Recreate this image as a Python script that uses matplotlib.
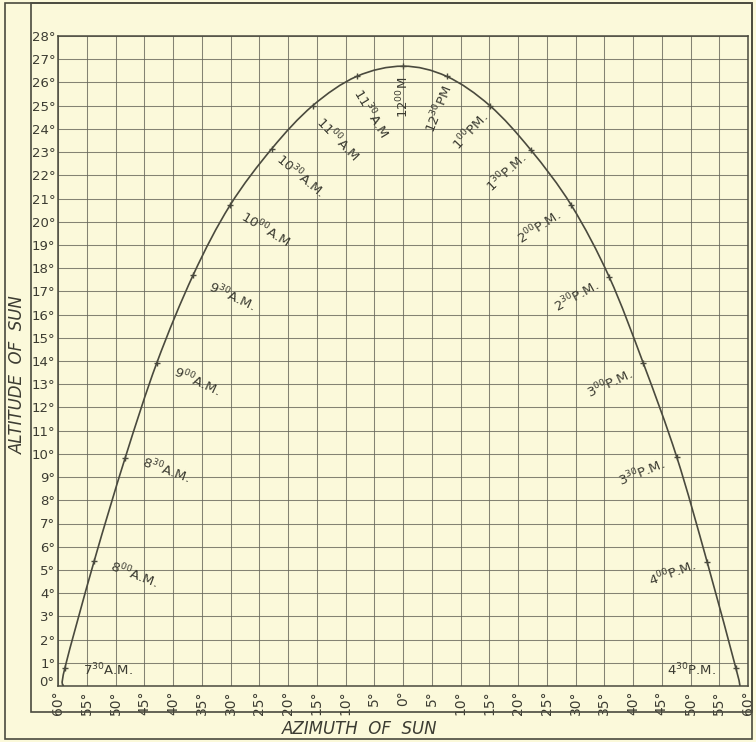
import matplotlib
matplotlib.use("Agg")
import matplotlib.pyplot as plt
from matplotlib.path import Path
from matplotlib.patches import PathPatch, Rectangle
import matplotlib.transforms as mtransforms
import numpy as np

# ---------------- data ----------------
times = ["7$^{30}$A.M.", "8$^{00}$A.M.", "8$^{30}$A.M.", "9$^{00}$A.M.", "9$^{30}$A.M.",
         "10$^{00}$A.M", "10$^{30}$A.M.", "11$^{00}$A.M", "11$^{30}$A.M", "12$^{00}$M",
         "12$^{30}$PM", "1$^{00}$PM.", "1$^{30}$P.M.", "2$^{00}$P.M.", "2$^{30}$P.M.",
         "3$^{00}$P.M.", "3$^{30}$P.M.", "4$^{00}$P.M.", "4$^{30}$P.M."]
azimuth = [-58.8, -53.7, -48.3, -42.8, -36.5, -30.1, -22.8, -15.7, -8.05, 0.0,
           7.6, 15.1, 22.2, 29.3, 35.9, 41.8, 47.6, 52.9, 57.9]
altitude = [0.78, 5.39, 9.84, 13.93, 17.7, 20.7, 23.15, 25.0, 26.26, 26.7,
            26.26, 25.0, 23.1, 20.7, 17.6, 13.9, 9.87, 5.34, 0.76]
# where the path meets the horizon
rise_az, set_az = -59.1, 58.6

x_ticks = list(range(-60, 61, 5))
y_ticks = list(range(0, 29))

# ---------------- layout / style ----------------
BG = "#FBF9DA"
INK = "#4a4a3e"
GRID = "#66665a"
TXT = "#3c3c32"
plt.rcParams["mathtext.fontset"] = "dejavusans"
# label offsets (pixels) from each marker, and text rotation
label_offsets = [(43, -2), (40, -14), (41, -12), (40, -19), (39, -21), (36, -24),
                 (29, -27), (25, -33), (14, -37), (0, -31), (-8, -33), (-19, -25),
                 (-24, -23), (-32, -21), (-33, -19), (-33, -20), (-35, -16),
                 (-35, -11), (-44, -2)]
label_rot = [0, -21, -20, -25, -25, -31, -40, -46, -59, 90, 68, 47, 43, 33, 29,
             25, 22, 20, 0]

W, H = 756, 742
fig = plt.figure(figsize=(W / 100, H / 100), dpi=100, facecolor=BG)
ax = fig.add_axes([58 / W, (H - 686) / H, (748 - 58) / W, (686 - 36) / H])
ax.set_facecolor(BG)
ax.set_xlim(-60, 60)
ax.set_ylim(0, 28)

ax.set_xticks(x_ticks)
ax.set_yticks(y_ticks)
ax.set_xticklabels([f"{abs(v)}°" for v in x_ticks], rotation=90,
                   fontsize=10, color=TXT)
ax.set_yticklabels([f"{v}°" for v in y_ticks], fontsize=9.5, color=TXT)
ax.tick_params(axis="x", length=0, pad=3)
ax.tick_params(axis="y", length=0, pad=2)
# lift the "0°" label a little so it clears the "60°" label below it
zero_lbl = ax.get_yticklabels()[0]
zero_lbl.set_transform(zero_lbl.get_transform() +
                       mtransforms.ScaledTranslation(-1 / 100, 5 / 100, fig.dpi_scale_trans))
ax.grid(True, color=GRID, linewidth=0.75, alpha=0.8)
for s in ax.spines.values():
    s.set_color(INK)
    s.set_linewidth(1.1)

# smooth sun path through the read points (Catmull-Rom -> cubic Bezier)
px = [rise_az] + azimuth + [set_az]
py = [0.0] + altitude + [0.0]
P = np.column_stack([px, py])
verts = [tuple(P[0])]
codes = [Path.MOVETO]
for i in range(len(P) - 1):
    p0 = P[i - 1] if i > 0 else P[i]
    p1 = P[i]
    p2 = P[i + 1]
    p3 = P[i + 2] if i + 2 < len(P) else P[i + 1]
    c1 = p1 + (p2 - p0) / 6.0
    c2 = p2 - (p3 - p1) / 6.0
    verts += [tuple(c1), tuple(c2), tuple(p2)]
    codes += [Path.CURVE4] * 3
ax.add_patch(PathPatch(Path(verts, codes), fill=False, edgecolor=INK,
                       linewidth=1.2, zorder=3))
ax.plot(azimuth, altitude, linestyle="none", marker="+", markersize=5,
        markeredgewidth=1.0, color=INK, zorder=4)

for t, a, h, (dx, dy), r in zip(times, azimuth, altitude, label_offsets, label_rot):
    ax.annotate(t, (a, h), xytext=(dx, dy), textcoords="offset pixels",
                ha="center", va="center", rotation=r, rotation_mode="anchor",
                fontsize=9.5, color=TXT, zorder=5)

# frames
fig.add_artist(Rectangle((5 / W, (H - 739) / H), 747 / W, 736 / H,
                         transform=fig.transFigure, fill=False,
                         edgecolor=INK, linewidth=1.2))
fig.add_artist(Rectangle((31 / W, (H - 712) / H), 721 / W, 709 / H,
                         transform=fig.transFigure, fill=False,
                         edgecolor=INK, linewidth=1.2))

fig.text(18 / W, (H - 375) / H, "ALTITUDE  OF  SUN", rotation=90,
         ha="center", va="center", fontsize=12, style="italic", color=TXT)
fig.text(360 / W, (H - 729) / H, "AZIMUTH  OF  SUN", ha="center", va="center",
         fontsize=12, style="italic", color=TXT)

fig.savefig("out.png", dpi=100, facecolor=BG)
